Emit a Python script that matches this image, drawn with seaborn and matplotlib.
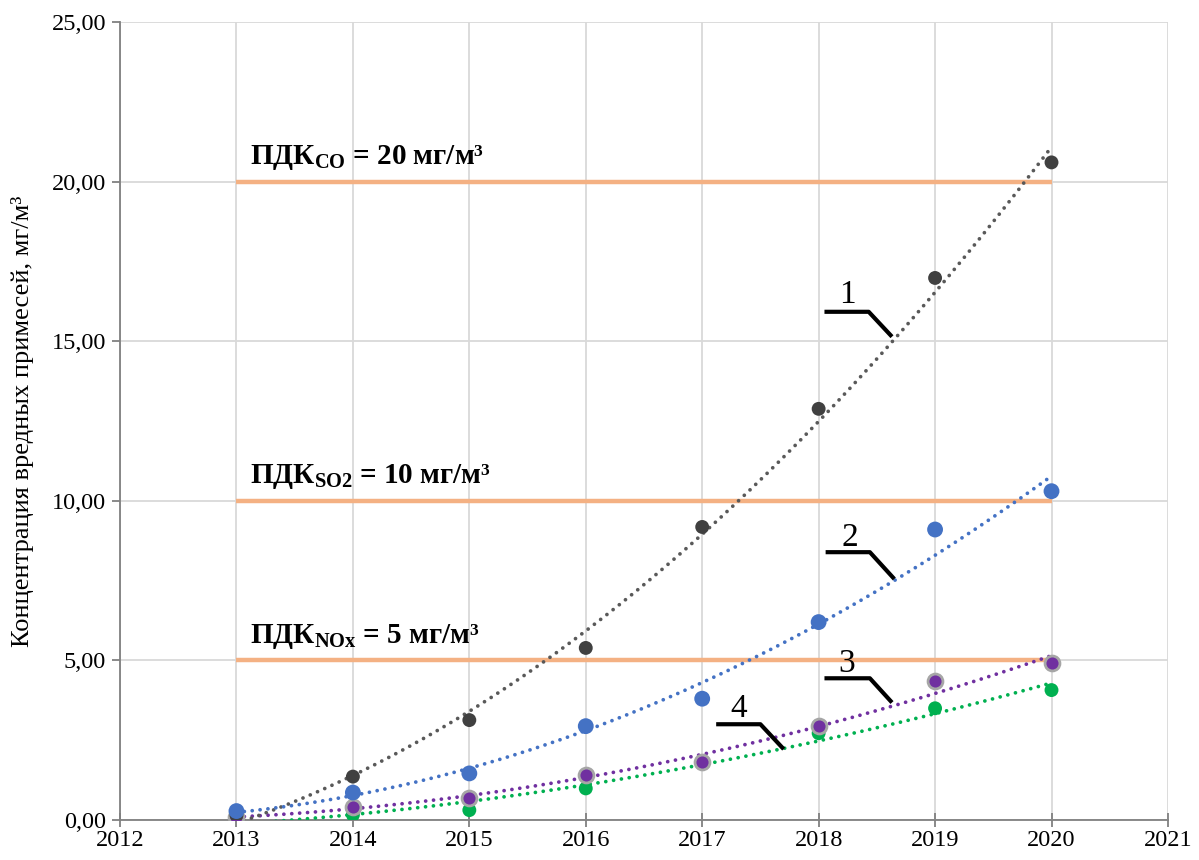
import numpy as np
import pandas as pd
import matplotlib
matplotlib.use('Agg')
import matplotlib.pyplot as plt
import seaborn as sns
from matplotlib.ticker import FuncFormatter, MultipleLocator

# Data
years = [2013, 2014, 2015, 2016, 2017, 2018, 2019, 2020]
co_values = [0.15, 1.36, 3.13, 5.39, 9.18, 12.88, 16.98, 20.60]
so2_values = [0.28, 0.86, 1.46, 2.94, 3.80, 6.20, 9.10, 10.30]
nox_values = [0.10, 0.42, 0.68, 1.40, 1.83, 2.94, 4.35, 4.93]
s4_values = [0.02, 0.16, 0.31, 0.99, 1.79, 2.72, 3.50, 4.07]

pdk_levels = [20, 10, 5]
pdk_labels = [r'ПДК$\mathbf{_{CO}}$ = 20 мг/м³',
              r'ПДК$\mathbf{_{SO2}}$ = 10 мг/м³',
              r'ПДК$\mathbf{_{NOx}}$ = 5 мг/м³']

y_label = 'Концентрация вредных примесей, мг/м³'

sns.set_theme(style='whitegrid')
plt.rcParams['font.family'] = ['Liberation Serif', 'DejaVu Serif']
plt.rcParams['text.color'] = 'black'
plt.rcParams['axes.labelcolor'] = 'black'
plt.rcParams['mathtext.fontset'] = 'custom'
plt.rcParams['mathtext.rm'] = 'Liberation Serif'
plt.rcParams['mathtext.bf'] = 'Liberation Serif:bold'
plt.rcParams['mathtext.it'] = 'Liberation Serif:italic'

fig = plt.figure(figsize=(11.99, 8.6), dpi=100)
ax = fig.add_axes([0.1001, 0.0465, 0.874, 0.928])

# PDK limit lines
for lvl, lab in zip(pdk_levels, pdk_labels):
    ax.hlines(lvl, years[0], years[-1], color='#F4B183', lw=3.2, zorder=2)
    ax.text(2013.12, lvl + 0.55, lab, fontsize=21, fontweight='bold',
            color='black', ha='left', va='baseline', zorder=5)

# series: (values, point colour, trend colour, size, edge colour)
series = [
    ('4', s4_values, '#00B050', '#00B050', 100, 'none'),
    ('3', nox_values, '#7030A0', '#7030A0', 115, '#A6A6A6'),
    ('1', co_values, '#404040', '#595959', 100, 'none'),
    ('2', so2_values, '#4472C4', '#4472C4', 130, 'none'),
]

xfit = np.linspace(years[0], years[-1], 200)
for name, vals, pc, tc, size, ec in series:
    coef = np.polyfit(years, vals, 2)
    sns.lineplot(x=xfit, y=np.polyval(coef, xfit), ax=ax, color=tc, lw=2.7,
                 linestyle=(0, (0.01, 2.1)), dash_capstyle='round', zorder=3)
for name, vals, pc, tc, size, ec in series:
    df = pd.DataFrame({'year': years, 'value': vals})
    sns.scatterplot(data=df, x='year', y='value', ax=ax, color=pc, s=size,
                    edgecolor=ec, linewidth=2 if ec != 'none' else 0, zorder=4)

# numbered leader labels: text pos, polyline
leaders = [
    ('1', (2018.25, 16.2), [2018.05, 2018.43, 2018.63], [15.92, 15.92, 15.14]),
    ('2', (2018.27, 8.59), [2018.06, 2018.44, 2018.65], [8.39, 8.39, 7.55]),
    ('3', (2018.24, 4.65), [2018.05, 2018.44, 2018.63], [4.44, 4.44, 3.68]),
    ('4', (2017.31, 3.24), [2017.12, 2017.50, 2017.70], [3.00, 3.00, 2.22]),
]
for txt, (tx, ty), lx, ly in leaders:
    ax.plot(lx, ly, color='black', lw=3, solid_capstyle='butt', zorder=6)
    ax.text(tx, ty, txt, fontsize=24, color='black', ha='center',
            va='baseline', zorder=6)

ax.set_xlim(2012, 2021)
ax.set_ylim(0, 25)
ax.xaxis.set_major_locator(MultipleLocator(1))
ax.yaxis.set_major_locator(MultipleLocator(5))
ax.yaxis.set_major_formatter(FuncFormatter(lambda v, p: f'{v:.2f}'.replace('.', ',')))
ax.xaxis.set_major_formatter(FuncFormatter(lambda v, p: f'{int(round(v))}'))

ax.set_facecolor('white')
ax.grid(True, color='#D9D9D9', lw=1.3)
for s in ['top', 'right']:
    ax.spines[s].set_visible(False)
for s in ['left', 'bottom']:
    ax.spines[s].set_color('#808080')
    ax.spines[s].set_linewidth(1.3)
ax.tick_params(axis='x', direction='inout', length=10, width=1.3, color='#808080',
               labelsize=17.5, labelcolor='black', pad=2, bottom=True)
ax.tick_params(axis='y', direction='out', length=6, width=1.3, color='#808080',
               labelsize=17.5, labelcolor='black', pad=4, left=True)

ax.set_xlabel('')
ax.set_ylabel(y_label, fontsize=19, color='black')
ax.yaxis.set_label_coords(-0.082, 0.5)

fig.savefig('out.png', dpi=100)
